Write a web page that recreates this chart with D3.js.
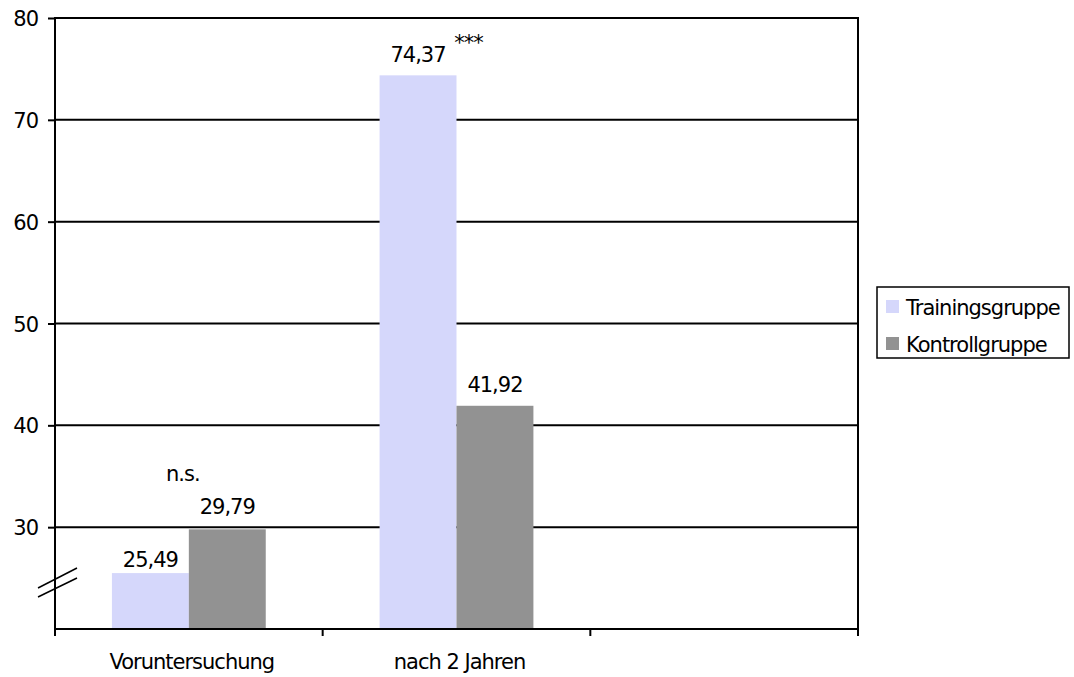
<!DOCTYPE html>
<html><head><meta charset="utf-8">
<script src="https://cdn.jsdelivr.net/npm/d3@7"></script>
<style>
body{margin:0;background:#fff;}
text{font-family:"DejaVu Sans",Verdana,sans-serif;fill:#000;letter-spacing:-1px;}
</style></head>
<body><svg id="c" width="1074" height="677"></svg>
<script>
const categories = ["Voruntersuchung", "nach 2 Jahren", ""];
const seriesNames = ["Trainingsgruppe", "Kontrollgruppe"];
const trainingValues = [25.49, 74.37, null];
const kontrollValues = [29.79, 41.92, null];
const valueLabels = [["25,49", "74,37"], ["29,79", "41,92"]];
const significance = ["n.s.", "***"];
const yTicks = [30, 40, 50, 60, 70, 80];
const colors = ["#d5d7fb", "#929292"];

const FS = 21;
const svg = d3.select("#c");
const L = 55, R = 858, T = 18, B = 629;
const x0 = d3.scaleBand().domain(categories).range([L, R]).padding(0);
const x1 = d3.scaleBand().domain(seriesNames).range([0, x0.bandwidth()]).paddingInner(0).paddingOuter(0.74);
const y = d3.scaleLinear().domain([20, 80]).range([B, T]);

// gridlines
svg.append("g").selectAll("line").data(yTicks).join("line")
  .attr("x1", L).attr("x2", R).attr("y1", d => y(d)).attr("y2", d => y(d))
  .attr("stroke", "#000").attr("stroke-width", 2);

// label gaps above bars (pixels), per series / category
const labelGap = [[6, 13], [15, 14]];

// bars
const series = [trainingValues, kontrollValues];
series.forEach((vals, si) => {
  svg.append("g").selectAll("rect").data(vals.map((v, i) => ({v, c: categories[i]})).filter(d => d.v != null))
    .join("rect")
    .attr("x", d => x0(d.c) + x1(seriesNames[si]))
    .attr("width", x1.bandwidth())
    .attr("y", d => y(d.v))
    .attr("height", d => B - y(d.v))
    .attr("fill", colors[si]);
  svg.append("g").selectAll("text").data(vals.map((v, i) => ({v, c: categories[i], i})).filter(d => d.v != null))
    .join("text")
    .attr("x", d => x0(d.c) + x1(seriesNames[si]) + x1.bandwidth() / 2)
    .attr("y", d => y(d.v) - labelGap[si][d.i])
    .attr("text-anchor", "middle")
    .attr("font-size", FS)
    .text(d => valueLabels[si][d.i]);
});

// significance marks
svg.append("text").attr("x", x0(categories[0]) + x1(seriesNames[1]) - 6)
  .attr("y", y(29.79) - 48).attr("text-anchor", "middle").attr("font-size", FS).text(significance[0]);
svg.append("text").attr("x", x0(categories[1]) + x1(seriesNames[1]) + 12)
  .attr("y", y(74.37) - 25).attr("text-anchor", "middle").attr("font-size", FS).text(significance[1]);

// y axis
const yAxis = d3.axisLeft(y).tickValues(yTicks).tickSize(7).tickPadding(10).tickFormat(d3.format("d"));
const gy = svg.append("g").attr("transform", `translate(${L},0)`).call(yAxis);
gy.select(".domain").remove();
gy.selectAll(".tick line").attr("stroke", "#000").attr("stroke-width", 2);
gy.selectAll(".tick text").attr("font-size", FS).attr("font-family", '"DejaVu Sans",Verdana,sans-serif').attr("dy", "0.36em");
svg.append("line").attr("x1", L).attr("x2", L).attr("y1", T - 1).attr("y2", B + 7).attr("stroke", "#000").attr("stroke-width", 2);
svg.append("line").attr("x1", R).attr("x2", R).attr("y1", T - 1).attr("y2", B + 7).attr("stroke", "#000").attr("stroke-width", 2);
// bottom ticks at band boundaries
const bounds = categories.map(c => x0(c)).concat([R]);
svg.append("g").selectAll("line").data(bounds).join("line")
  .attr("x1", d => d).attr("x2", d => d).attr("y1", B).attr("y2", B + 7)
  .attr("stroke", "#000").attr("stroke-width", 2);
svg.append("line").attr("x1", L - 1).attr("x2", R + 1).attr("y1", B).attr("y2", B).attr("stroke", "#000").attr("stroke-width", 2);

// category labels
svg.append("g").selectAll("text").data(categories).join("text")
  .attr("x", d => x0(d) + x0.bandwidth() / 2 + 3)
  .attr("y", 669).attr("text-anchor", "middle").attr("font-size", FS).text(d => d);

// axis break marks
[[588, 568], [597, 578]].forEach(([ya, yb]) => {
  svg.append("line").attr("x1", 38).attr("y1", ya).attr("x2", 77).attr("y2", yb)
    .attr("stroke", "#000").attr("stroke-width", 1.5);
});

// legend
const lg = svg.append("g");
lg.append("rect").attr("x", 877).attr("y", 287).attr("width", 192).attr("height", 71)
  .attr("fill", "#fff").attr("stroke", "#000").attr("stroke-width", 1.5);
seriesNames.forEach((n, i) => {
  lg.append("rect").attr("x", 886).attr("y", 300 + i * 37).attr("width", 13).attr("height", 13).attr("fill", colors[i]);
  lg.append("text").attr("x", 906).attr("y", 315 + i * 37).attr("font-size", FS).text(n);
});
</script></body></html>
